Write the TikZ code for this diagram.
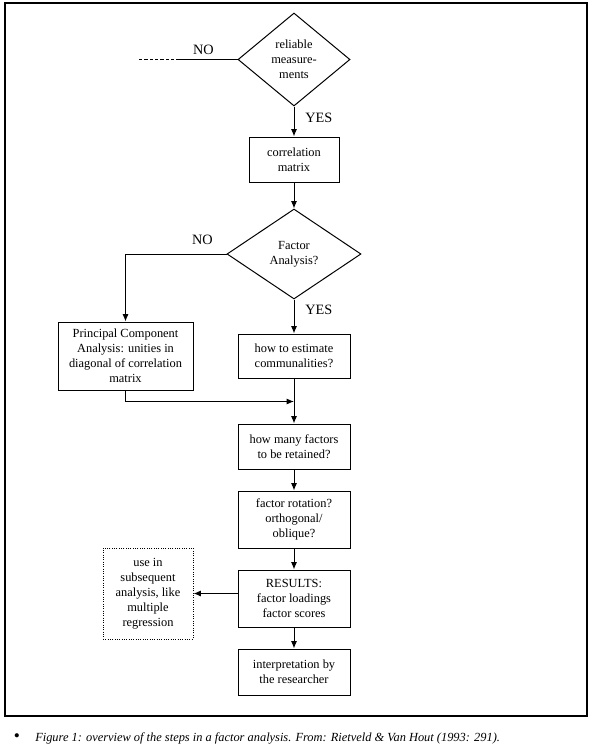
\documentclass[tikz,border=0pt]{standalone}
\usepackage{fontspec}
\setmainfont{Liberation Serif}
\usetikzlibrary{arrows.meta,positioning,shapes.geometric}
\tikzset{>={Latex[length=5.5pt,width=4.5pt]},
box/.style={draw,line width=0.75pt,align=center,inner sep=2pt,font=\fontsize{9.3}{11.2}\selectfont,minimum width=84pt},
ask/.style={draw,diamond,line width=0.75pt,align=center,inner sep=0pt,font=\fontsize{9.3}{11.2}\selectfont},
note/.style={draw,densely dotted,line width=0.75pt,align=center,inner sep=2pt,font=\fontsize{9.3}{11.2}\selectfont,minimum width=67.5pt,minimum height=68.25pt},
lab/.style={font=\fontsize{10.7}{12}\selectfont,inner sep=0pt},
arr/.style={->,line width=0.75pt}}
\begin{document}
\begin{tikzpicture}[x=0.75pt,y=-0.75pt]
\useasboundingbox (0,0) rectangle (597,746);
\draw[line width=1pt] (5,3) rectangle (587,716);
\node[ask,minimum width=84pt,minimum height=69.75pt] (rel) at (294,59.5) {reliable\\measure-\\ments};
\node[box,minimum width=67.5pt,minimum height=33.75pt,below=22.5pt of rel] (corr) {correlation\\matrix};
\node[ask,minimum width=100.5pt,minimum height=67.5pt,below=19.5pt of corr] (fa) {Factor\\Analysis?};
\node[box,minimum height=33pt,below=25.5pt of fa] (comm) {how to estimate\\communalities?};
\node[box,minimum width=101.25pt,minimum height=51pt,left=33pt of comm] (pca) {Principal Component\\Analysis: unities in\\diagonal of correlation\\matrix};
\node[box,minimum height=33.75pt,below=33.75pt of comm] (many) {how many factors\\to be retained?};
\node[box,minimum height=42.75pt,below=15.75pt of many] (rot) {factor rotation?\\orthogonal/\\oblique?};
\node[box,minimum height=42.75pt,below=15.75pt of rot] (res) {RESULTS:\\factor loadings\\factor scores};
\node[note,left=33pt of res,yshift=3.75pt] (use) {use in\\subsequent\\analysis, like\\multiple\\regression};
\node[box,minimum height=34.5pt,below=15.75pt of res] (interp) {interpretation by\\the researcher};
% side branches
\coordinate (nomid) at ([xshift=-43.5pt]rel.west);
\coordinate (noend) at ([xshift=-75pt]rel.west);
\coordinate (join) at ([yshift=-17.25pt]comm.south);
\node[lab,anchor=south] (no1) at ([xshift=-25.5pt,yshift=3.75pt]rel.west) {NO};
\node[lab,anchor=west] (yes1) at ([xshift=8.25pt,yshift=-8.6pt]rel.south) {YES};
\node[lab,anchor=south] (no2) at ([xshift=-18pt,yshift=6.75pt]fa.west) {NO};
\node[lab,anchor=west] (yes2) at ([xshift=8.25pt,yshift=-7.9pt]fa.south) {YES};
\draw[line width=0.75pt] (rel.west)--(nomid);\draw[line width=0.75pt,dash pattern=on 2.5pt off 1.5pt] (nomid)--(noend);
\draw[arr] (rel)--(corr);\draw[arr] (corr)--(fa);\draw[arr] (fa)--(comm);\draw[arr] (comm)--(many);
\draw[arr] (many)--(rot);\draw[arr] (rot)--(res);\draw[arr] (res)--(interp);
\draw[arr] (fa.west)-|(pca.north);\draw[arr] (pca.south)|-(join);
\draw[arr] (res.west|-use.east)--(use.east);
% caption
\node[font=\fontsize{13}{13}\selectfont] (dot) at (17,738) {\textbullet};
\node[anchor=west,font=\fontsize{9.3}{11}\selectfont\itshape,inner sep=0pt] (cap) at (35,738) {Figure 1: overview of the steps in a factor analysis. From: Rietveld \& Van Hout (1993: 291).};
\end{tikzpicture}
\end{document}
